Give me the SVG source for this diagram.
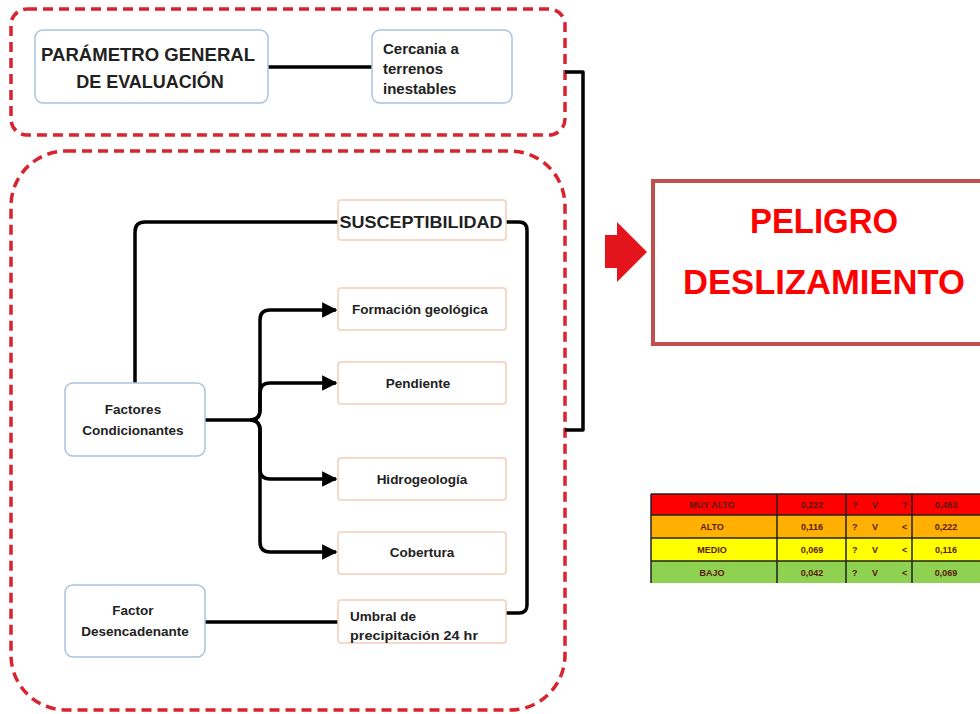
<svg xmlns="http://www.w3.org/2000/svg" width="980" height="714" viewBox="0 0 980 714">
<defs>
<style>
.grp{fill:none;stroke:#d9232e;stroke-width:3.5;stroke-dasharray:10,6}
.bnode{fill:#fff;stroke:#a9c3df;stroke-width:1.5}
.onode{fill:#fff;stroke:#f2cdb8;stroke-width:1.5}
.t{font-family:"Liberation Sans",Arial,sans-serif;fill:#222;font-weight:bold}
.s{font-size:13.5px}
.con{fill:none;stroke:#000;stroke-width:3.5;stroke-linejoin:round}
.cell{font-family:"Liberation Sans",Arial,sans-serif;font-size:9px;font-weight:bold;fill:#5a1a10}
</style>
<marker id="arr" viewBox="0 0 10 10" refX="9" refY="5" markerWidth="4.4" markerHeight="4.4" orient="auto" markerUnits="strokeWidth">
<path d="M0,0 L10,5 L0,10 z" fill="#000"/>
</marker>
</defs>
<rect width="980" height="714" fill="#fff"/>

<g id="group-top">
<rect class="grp" x="11" y="9" width="554" height="126" rx="16"/>
</g>
<g id="group-bottom">
<rect class="grp" x="11" y="151" width="554" height="559" rx="55"/>
</g>

<g id="connectors">
<path class="con" d="M268,67 H372"/>
<path class="con" d="M565,72 H583 V430 H565"/>
<path class="con" d="M135,383 V232 Q135,222 145,222 H338"/>
<path class="con" d="M506,222 H519 Q527,222 527,230 V605 Q527,613 519,613 H506"/>
<path class="con" d="M205,622 H338"/>
<path class="con" d="M205,420 H250 Q260,420 260,410 V320 Q260,310 270,310 H336" marker-end="url(#arr)"/>
<path class="con" d="M250,420 Q260,420 260,410 V393 Q260,383 270,383 H336" marker-end="url(#arr)"/>
<path class="con" d="M250,420 Q260,420 260,430 V469 Q260,479 270,479 H336" marker-end="url(#arr)"/>
<path class="con" d="M250,420 Q260,420 260,430 V542 Q260,552 270,552 H336" marker-end="url(#arr)"/>
</g>

<g id="n-parametro">
<rect class="bnode" x="35" y="30" width="233" height="73" rx="8"/>
<text class="t" x="148" y="61" font-size="18" text-anchor="middle" textLength="214" lengthAdjust="spacingAndGlyphs">PARÁMETRO GENERAL</text>
<text class="t" x="150" y="88" font-size="18" text-anchor="middle">DE EVALUACIÓN</text>
</g>
<g id="n-cercania">
<rect class="bnode" x="372" y="30" width="140" height="73" rx="8"/>
<text class="t" x="383" y="54" font-size="15">Cercania a</text>
<text class="t" x="383" y="74" font-size="15">terrenos</text>
<text class="t" x="383" y="94" font-size="15">inestables</text>
</g>
<g id="n-susceptibilidad">
<rect class="onode" x="338" y="200" width="168" height="40" rx="3"/>
<text class="t" x="421" y="228" font-size="17" text-anchor="middle" textLength="163" lengthAdjust="spacingAndGlyphs">SUSCEPTIBILIDAD</text>
</g>
<g id="n-formacion">
<rect class="onode" x="338" y="288" width="168" height="42" rx="3"/>
<text class="t s" x="420" y="314" text-anchor="middle">Formación geológica</text>
</g>
<g id="n-pendiente">
<rect class="onode" x="338" y="362" width="168" height="42" rx="3"/>
<text class="t s" x="418" y="388" text-anchor="middle">Pendiente</text>
</g>
<g id="n-hidrogeologia">
<rect class="onode" x="338" y="458" width="168" height="42" rx="3"/>
<text class="t s" x="422" y="484" text-anchor="middle">Hidrogeología</text>
</g>
<g id="n-cobertura">
<rect class="onode" x="338" y="532" width="168" height="42" rx="3"/>
<text class="t s" x="422" y="557" text-anchor="middle">Cobertura</text>
</g>
<g id="n-umbral">
<rect class="onode" x="338" y="600" width="168" height="43" rx="3"/>
<text class="t s" x="350" y="621">Umbral de</text>
<text class="t s" x="350" y="640" textLength="128" lengthAdjust="spacingAndGlyphs">precipitación 24 hr</text>
</g>
<g id="n-condicionantes">
<rect class="bnode" x="65" y="383" width="140" height="73" rx="8"/>
<text class="t s" x="133" y="414" text-anchor="middle">Factores</text>
<text class="t s" x="133" y="435" text-anchor="middle">Condicionantes</text>
</g>
<g id="n-desencadenante">
<rect class="bnode" x="65" y="585" width="140" height="72" rx="8"/>
<text class="t s" x="133" y="615" text-anchor="middle">Factor</text>
<text class="t s" x="135" y="636" text-anchor="middle">Desencadenante</text>
</g>

<g id="red-arrow">
<path d="M605,235 H617 V222 L647,252 L617,282 V268 H605 z" fill="#e3141c"/>
</g>
<g id="n-peligro">
<rect x="653" y="181" width="340" height="163" fill="#fff" stroke="#c0504d" stroke-width="4"/>
<text x="824" y="233" font-family="Liberation Sans,Arial,sans-serif" font-weight="bold" font-size="35" fill="#ff0000" text-anchor="middle" textLength="148" lengthAdjust="spacingAndGlyphs">PELIGRO</text>
<text x="824" y="294" font-family="Liberation Sans,Arial,sans-serif" font-weight="bold" font-size="35" fill="#ff0000" text-anchor="middle" textLength="282" lengthAdjust="spacingAndGlyphs">DESLIZAMIENTO</text>
</g>

<g id="legend-table">
<rect x="651" y="494" width="340" height="21" fill="#ff0000"/>
<rect x="651" y="515" width="340" height="23" fill="#ffb000"/>
<rect x="651" y="538" width="340" height="23" fill="#ffff00"/>
<rect x="651" y="561" width="340" height="22" fill="#8fd150"/>
<g stroke="#222" stroke-width="1.5">
<path d="M651,494 V583 M777,494 V583 M846,494 V583 M912,494 V583"/>
<path d="M651,494 H980 M651,515 H980 M651,538 H980 M651,561 H980"/>
</g>
<text class="cell" x="712" y="508" text-anchor="middle">MUY ALTO</text>
<text class="cell" x="812" y="508" text-anchor="middle">0,222</text>
<text class="cell" x="852" y="508">?</text>
<text class="cell" x="875" y="508" text-anchor="middle">V</text>
<text class="cell" x="902" y="508">?</text>
<text class="cell" x="946" y="508" text-anchor="middle">0,463</text>
<text class="cell" x="712" y="530" text-anchor="middle">ALTO</text>
<text class="cell" x="812" y="530" text-anchor="middle">0,116</text>
<text class="cell" x="852" y="530">?</text>
<text class="cell" x="875" y="530" text-anchor="middle">V</text>
<text class="cell" x="902" y="530">&lt;</text>
<text class="cell" x="946" y="530" text-anchor="middle">0,222</text>
<text class="cell" x="712" y="553" text-anchor="middle">MEDIO</text>
<text class="cell" x="812" y="553" text-anchor="middle">0,069</text>
<text class="cell" x="852" y="553">?</text>
<text class="cell" x="875" y="553" text-anchor="middle">V</text>
<text class="cell" x="902" y="553">&lt;</text>
<text class="cell" x="946" y="553" text-anchor="middle">0,116</text>
<text class="cell" x="712" y="576" text-anchor="middle">BAJO</text>
<text class="cell" x="812" y="576" text-anchor="middle">0,042</text>
<text class="cell" x="852" y="576">?</text>
<text class="cell" x="875" y="576" text-anchor="middle">V</text>
<text class="cell" x="902" y="576">&lt;</text>
<text class="cell" x="946" y="576" text-anchor="middle">0,069</text>
</g>
</svg>
